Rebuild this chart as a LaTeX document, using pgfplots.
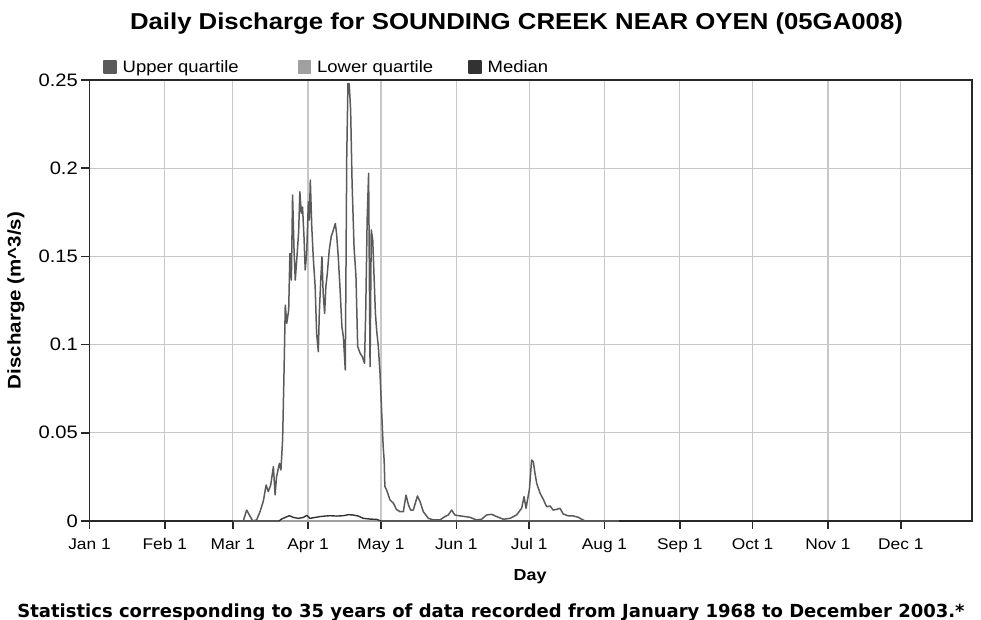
\documentclass[border=0pt]{standalone}
\usepackage{fontspec}
\setmainfont[FakeStretch=1.12]{Liberation Sans}
\newfontfamily\footfont{DejaVu Sans}
\usepackage{pgfplots}
\pgfplotsset{compat=1.18}
\definecolor{upperc}{RGB}{90,90,90}
\definecolor{lowerc}{RGB}{160,160,160}
\definecolor{medianc}{RGB}{50,50,50}
\definecolor{gridc}{RGB}{200,200,200}
\definecolor{axisc}{RGB}{40,40,40}
\begin{document}
\begin{tikzpicture}[x=1pt,y=1pt]
\useasboundingbox (-89.5,-99) rectangle (891.5,521);
\begin{axis}[
  at={(0,0)}, anchor=south west,
  scale only axis, width=882.5pt, height=441pt,
  xmin=0, xmax=363.3, ymin=0, ymax=0.25,
  xtick={0,31,59,90,120,151,181,212,243,273,304,334},
  xticklabels={Jan 1,Feb 1,Mar 1,Apr 1,May 1,Jun 1,Jul 1,Aug 1,Sep 1,Oct 1,Nov 1,Dec 1},
  ytick={0,0.05,0.1,0.15,0.2,0.25},
  yticklabels={0,0.05,0.1,0.15,0.2,0.25},
  xtick pos=left, ytick pos=left,
  tick align=outside, major tick length=8pt,
  tick style={axisc, line width=1.5pt},
  grid=major, grid style={gridc, line width=1.3pt},
  axis line style={axisc, line width=1.8pt},
  xticklabel style={font=\fontsize{15.5}{18}\selectfont, anchor=base, inner sep=0pt, yshift=-20pt},
  yticklabel style={font=\fontsize{18}{21}\selectfont, anchor=east, inner sep=0pt, xshift=-3.5pt},
  every axis y label/.style={at={(axis description cs:-0.0833,0.5)}, rotate=90, anchor=center},
  every axis x label/.style={at={(axis description cs:0.4992,-0.136)}, anchor=base},
  ylabel={\bfseries\fontsize{18.3}{21}\selectfont Discharge (m\textasciicircum 3/s)},
  xlabel={\bfseries\fontsize{16}{19}\selectfont Day},
  legend columns=3,
  legend style={draw=none, fill=none, inner sep=0pt,
    at={(axis description cs:0,1)}, anchor=west, xshift=13.5pt, yshift=13pt,
    font=\fontsize{16.5}{19}\selectfont,
    nodes={inner sep=0pt},
    /tikz/every odd column/.style={column sep=6pt},
    /tikz/column 2/.style={column sep=59pt},
    /tikz/column 4/.style={column sep=35pt}},
  every axis plot/.append style={line join=round},
]
\addplot[upperc, line width=1.5pt,
  legend image code/.code={\fill[upperc] (0pt,-6pt) rectangle (12pt,6pt);}]
coordinates {(59,0)(63.3,0)(64.7,0.0062)(65.8,0.0034)(67.2,0)(68.8,0.0006)(70.2,0.0053)(71.6,0.0115)(72.7,0.0204)(73.6,0.0167)(74.6,0.0204)(75.7,0.0308)(76.4,0.0148)(77.0,0.0251)(78.2,0.0327)(78.8,0.0289)(79.5,0.046)(80.1,0.0856)(80.6,0.1224)(81.2,0.112)(82.0,0.1196)(82.5,0.1517)(83.1,0.1366)(83.6,0.1848)(84.2,0.1536)(84.7,0.1366)(85.5,0.1517)(86.1,0.164)(86.6,0.1867)(87.2,0.1744)(87.7,0.178)(88.3,0.1612)(88.8,0.1423)(89.4,0.1517)(90.1,0.181)(90.5,0.1706)(90.9,0.1933)(91.5,0.1668)(92.1,0.1498)(92.9,0.1328)(93.5,0.1064)(94.2,0.096)(94.6,0.1177)(95.2,0.1366)(95.7,0.1498)(96.2,0.129)(96.8,0.1177)(97.3,0.1328)(97.9,0.1404)(98.7,0.1536)(99.5,0.1612)(100.4,0.165)(101.2,0.1687)(101.7,0.163)(102.4,0.1498)(103.1,0.1328)(103.9,0.1102)(104.5,0.1045)(105.3,0.0856)(105.9,0.2065)(106.4,0.248)(106.9,0.248)(107.5,0.233)(108.1,0.1914)(108.9,0.1555)(109.7,0.1385)(110.4,0.0989)(111.4,0.0951)(112.3,0.0932)(113.2,0.0894)(113.7,0.1177)(114.3,0.1706)(114.9,0.1971)(115.5,0.0875)(116.0,0.165)(116.6,0.1593)(117.1,0.1404)(117.7,0.1177)(118.2,0.1083)(118.9,0.0989)(119.6,0.0838)(120.3,0.0611)(120.9,0.0422)(121.3,0.0346)(121.6,0.0196)(122.3,0.0176)(123.7,0.012)(125.1,0.0101)(126.4,0.0065)(127.8,0.0053)(129.2,0.0053)(130.3,0.0147)(131.3,0.0091)(132.2,0.0062)(133.3,0.0062)(135.0,0.0142)(136.1,0.0109)(137.4,0.0053)(139.5,0.0015)(141.6,0.0006)(144.3,0.0006)(146.3,0.0025)(147.7,0.0034)(149.1,0.0062)(150.4,0.0034)(152.5,0.0029)(154.6,0.0025)(156.6,0.0021)(159.3,0.0006)(161.4,0.001)(163.5,0.0034)(165.5,0.0038)(167.6,0.0025)(170.4,0.001)(173.1,0.0015)(175.8,0.0034)(177.9,0.0072)(178.9,0.0138)(179.7,0.0072)(181.1,0.018)(182.0,0.0346)(182.7,0.0336)(183.4,0.027)(184.1,0.0213)(185.5,0.0157)(186.8,0.0123)(188.2,0.0081)(189.6,0.0085)(190.9,0.0062)(192.3,0.0066)(193.7,0.0072)(195.0,0.004)(197.1,0.0029)(199.1,0.0029)(201.2,0.0021)(202.6,0.001)(204,0)};
\addlegendentry{Upper quartile}
\addplot[lowerc, line width=1.4pt,
  legend image code/.code={\fill[lowerc] (0pt,-6pt) rectangle (12pt,6pt);}]
coordinates {(59,0)(218,0)};
\addlegendentry{Lower quartile}
\addplot[medianc, line width=1.4pt,
  legend image code/.code={\fill[medianc] (0pt,-6pt) rectangle (12pt,6pt);}]
coordinates {(59,0)(78,0)(79.1,0.0011)(80.5,0.002)(82.3,0.003)(84,0.002)(86,0.0015)(88,0.002)(89.4,0.0032)(90.8,0.0015)(92.8,0.002)(94.9,0.0025)(97,0.0028)(99,0.003)(101.8,0.0028)(104.5,0.003)(106.6,0.0036)(108.6,0.0034)(110.7,0.0028)(112.7,0.0015)(115.5,0.0011)(118.2,0.0009)(120,0)(218,0)};
\addlegendentry{Median}
\end{axis}
\node[anchor=base, font=\bfseries\fontsize{23}{26}\selectfont] at (427,491) {Daily Discharge for SOUNDING CREEK NEAR OYEN (05GA008)};
\node[anchor=base, font=\footfont\bfseries\fontsize{18}{21}\selectfont] at (401.5,-96) {Statistics corresponding to 35 years of data recorded from January 1968 to December 2003.*};
\end{tikzpicture}
\end{document}
